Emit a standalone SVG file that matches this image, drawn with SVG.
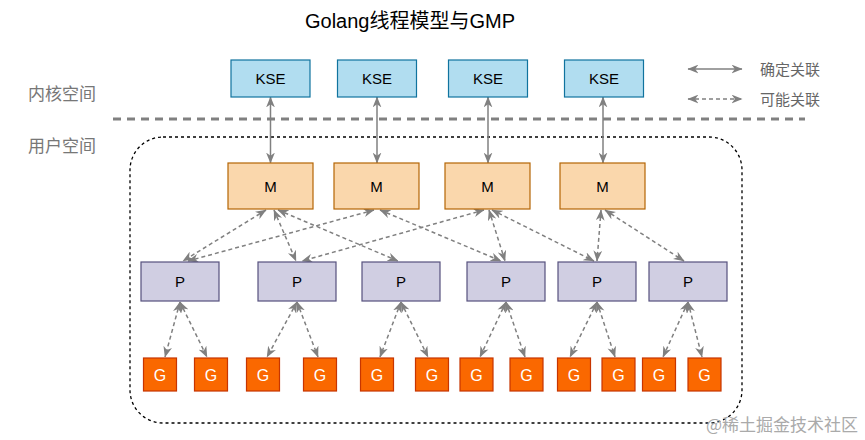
<svg xmlns="http://www.w3.org/2000/svg" width="865" height="440" viewBox="0 0 865 440">
<defs>
<marker id="ah" viewBox="0 0 10 8" refX="9.5" refY="4" markerWidth="11" markerHeight="9" markerUnits="userSpaceOnUse" orient="auto-start-reverse">
<path d="M0,0 L10,4 L0,8 L3,4 Z" fill="#808080"/>
</marker>
</defs>
<style>
text{font-family:"Liberation Sans",Arial,"Noto Sans CJK SC",sans-serif;}
.lbl{font-size:15px;text-anchor:middle;fill:#000;}
.kse rect{fill:#b1ddf0;stroke:#10739e;stroke-width:1.2;}
.m rect{fill:#fad7ac;stroke:#b46504;stroke-width:1.2;}
.p rect{fill:#d0cee2;stroke:#56517e;stroke-width:1.2;}
.g rect{fill:#fa6800;stroke:#c73500;stroke-width:1.2;}
.g text{font-size:16px;text-anchor:middle;fill:#fff;}
.solid{stroke:#808080;stroke-width:1.5;fill:none;marker-start:url(#ah);marker-end:url(#ah);}
.dash{stroke:#808080;stroke-width:1.5;fill:none;stroke-dasharray:4 3;marker-start:url(#ah);marker-end:url(#ah);}
.side{font-size:17px;fill:#777;font-family:"Noto Sans CJK SC",sans-serif;}
.leg{font-size:15px;fill:#666;font-family:"Noto Sans CJK SC",sans-serif;}
</style>
<rect width="865" height="440" fill="#fff"/>
<text x="410" y="28" style="font-size:20px;text-anchor:middle;fill:#000;font-family:'Liberation Sans','Noto Sans CJK SC',sans-serif;">Golang线程模型与GMP</text>
<text class="side" x="28" y="100">内核空间</text>
<text class="side" x="28" y="152">用户空间</text>
<line x1="113" y1="119" x2="805" y2="119" stroke="#808080" stroke-width="3" stroke-dasharray="8 6"/>
<rect id="userspace" x="130" y="137" width="612" height="286" rx="33" ry="33" fill="none" stroke="#000" stroke-width="1.3" stroke-dasharray="3 3"/>
<g id="legend">
<line class="solid" x1="688" y1="69" x2="742" y2="69"/>
<text class="leg" x="760" y="75">确定关联</text>
<line class="dash" x1="688" y1="99" x2="742" y2="99"/>
<text class="leg" x="760" y="105">可能关联</text>
</g>
<g id="connectors">
<line class="solid" x1="270.5" y1="97" x2="270.5" y2="163"/>
<line class="solid" x1="377" y1="97" x2="377" y2="163"/>
<line class="solid" x1="488" y1="97" x2="488" y2="163"/>
<line class="solid" x1="603" y1="97" x2="603" y2="163"/>
<line class="dash" x1="266" y1="210" x2="183" y2="261"/>
<line class="dash" x1="274" y1="210" x2="296" y2="261"/>
<line class="dash" x1="278" y1="210" x2="398" y2="261"/>
<line class="dash" x1="374" y1="210" x2="188" y2="261"/>
<line class="dash" x1="380" y1="210" x2="501" y2="261"/>
<line class="dash" x1="484" y1="210" x2="302" y2="261"/>
<line class="dash" x1="489" y1="210" x2="505" y2="261"/>
<line class="dash" x1="492" y1="210" x2="594" y2="261"/>
<line class="dash" x1="601" y1="210" x2="597" y2="261"/>
<line class="dash" x1="605" y1="210" x2="684" y2="261"/>
<line class="dash" x1="180" y1="302" x2="165" y2="357"/>
<line class="dash" x1="180" y1="302" x2="207" y2="357"/>
<line class="dash" x1="297" y1="302" x2="267" y2="357"/>
<line class="dash" x1="297" y1="302" x2="318" y2="357"/>
<line class="dash" x1="401" y1="302" x2="380" y2="357"/>
<line class="dash" x1="401" y1="302" x2="428" y2="357"/>
<line class="dash" x1="506" y1="302" x2="480" y2="357"/>
<line class="dash" x1="506" y1="302" x2="525" y2="357"/>
<line class="dash" x1="597" y1="302" x2="570" y2="357"/>
<line class="dash" x1="597" y1="302" x2="615" y2="357"/>
<line class="dash" x1="688" y1="302" x2="663" y2="357"/>
<line class="dash" x1="688" y1="302" x2="702" y2="357"/>
</g>
<g id="kse1" class="kse"><rect x="231" y="60" width="79" height="37"/><text class="lbl" x="270.5" y="84">KSE</text></g>
<g id="kse2" class="kse"><rect x="337.5" y="60" width="79" height="37"/><text class="lbl" x="377" y="84">KSE</text></g>
<g id="kse3" class="kse"><rect x="448.5" y="60" width="79" height="37"/><text class="lbl" x="488" y="84">KSE</text></g>
<g id="kse4" class="kse"><rect x="564.5" y="60" width="79" height="37"/><text class="lbl" x="604" y="84">KSE</text></g>
<g id="m1" class="m"><rect x="228" y="163" width="85" height="46"/><text class="lbl" x="270.5" y="191.5">M</text></g>
<g id="m2" class="m"><rect x="334" y="163" width="85" height="46"/><text class="lbl" x="376.5" y="191.5">M</text></g>
<g id="m3" class="m"><rect x="445" y="163" width="85" height="46"/><text class="lbl" x="487.5" y="191.5">M</text></g>
<g id="m4" class="m"><rect x="560" y="163" width="85" height="46"/><text class="lbl" x="602.5" y="191.5">M</text></g>
<g id="p1" class="p"><rect x="141" y="262" width="78" height="39"/><text class="lbl" x="180" y="287">P</text></g>
<g id="p2" class="p"><rect x="258" y="262" width="78" height="39"/><text class="lbl" x="297" y="287">P</text></g>
<g id="p3" class="p"><rect x="362" y="262" width="78" height="39"/><text class="lbl" x="401" y="287">P</text></g>
<g id="p4" class="p"><rect x="467" y="262" width="78" height="39"/><text class="lbl" x="506" y="287">P</text></g>
<g id="p5" class="p"><rect x="558" y="262" width="78" height="39"/><text class="lbl" x="597" y="287">P</text></g>
<g id="p6" class="p"><rect x="649" y="262" width="78" height="39"/><text class="lbl" x="688" y="287">P</text></g>
<g id="g1" class="g"><rect x="143.5" y="358" width="33" height="33"/><text x="160" y="380.5">G</text></g>
<g id="g2" class="g"><rect x="194.5" y="358" width="33" height="33"/><text x="211" y="380.5">G</text></g>
<g id="g3" class="g"><rect x="246.5" y="358" width="33" height="33"/><text x="263" y="380.5">G</text></g>
<g id="g4" class="g"><rect x="303.5" y="358" width="33" height="33"/><text x="320" y="380.5">G</text></g>
<g id="g5" class="g"><rect x="360.5" y="358" width="33" height="33"/><text x="377" y="380.5">G</text></g>
<g id="g6" class="g"><rect x="415.5" y="358" width="33" height="33"/><text x="432" y="380.5">G</text></g>
<g id="g7" class="g"><rect x="460" y="358" width="33" height="33"/><text x="476.5" y="380.5">G</text></g>
<g id="g8" class="g"><rect x="510" y="358" width="33" height="33"/><text x="526.5" y="380.5">G</text></g>
<g id="g9" class="g"><rect x="557.5" y="358" width="33" height="33"/><text x="574" y="380.5">G</text></g>
<g id="g10" class="g"><rect x="602" y="358" width="33" height="33"/><text x="618.5" y="380.5">G</text></g>
<g id="g11" class="g"><rect x="642.5" y="358" width="33" height="33"/><text x="659" y="380.5">G</text></g>
<g id="g12" class="g"><rect x="688" y="358" width="33" height="33"/><text x="704.5" y="380.5">G</text></g>
<text x="858" y="431" style="font-size:17px;fill:#aaa;text-anchor:end;font-family:'Noto Sans CJK SC',sans-serif;">@稀土掘金技术社区</text>
</svg>
